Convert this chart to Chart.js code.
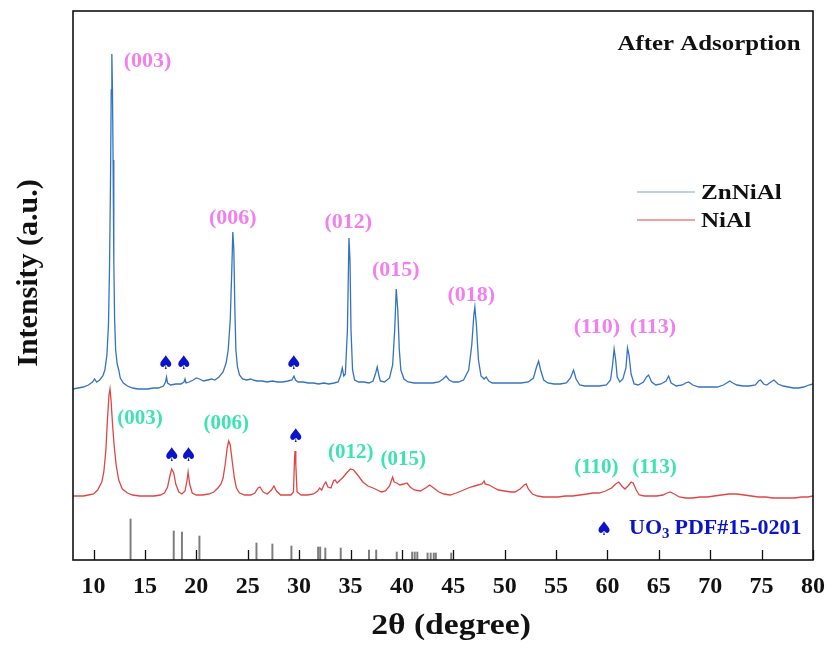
<!DOCTYPE html>
<html>
<head>
<meta charset="utf-8">
<script src="https://cdn.jsdelivr.net/npm/chart.js@4/dist/chart.umd.min.js"></script>
<style>
  html, body { margin: 0; padding: 0; background: #ffffff; }
  #wrap { width: 832px; height: 649px; }
</style>
</head>
<body>
<div id="wrap"><canvas id="xrd" width="832" height="649"></canvas></div>
<script>
// 2-theta values (degrees) and offset intensities (a.u.) for each pattern
const znNiAlTheta = [8.0,8.5,9.0,9.5,9.9,10.1,10.3,10.6,10.9,11.1,11.3,11.45,11.55,11.65,11.72,11.78,11.84,11.9,11.97,12.05,12.15,12.3,12.45,12.6,12.9,13.3,13.8,14.3,14.8,15.3,15.8,16.3,16.8,17.0,17.1,17.2,17.5,18.0,18.5,18.8,18.9,19.0,19.3,19.7,20.0,20.3,20.7,21.1,21.5,21.8,22.2,22.6,22.9,23.1,23.3,23.45,23.55,23.65,23.75,23.85,24.0,24.2,24.5,24.9,25.3,25.5,25.9,26.4,26.9,27.4,27.9,28.4,28.9,29.3,29.5,29.65,29.9,30.4,30.9,31.4,31.9,32.4,32.9,33.4,33.8,34.05,34.2,34.35,34.5,34.7,34.85,34.95,35.05,35.2,35.4,35.8,36.3,36.8,37.2,37.45,37.6,37.75,37.9,38.3,38.8,39.1,39.3,39.45,39.6,39.75,39.9,40.2,40.6,41.2,41.8,42.4,43.0,43.6,44.0,44.3,44.6,45.0,45.5,46.0,46.5,46.8,47.0,47.1,47.25,47.45,47.7,48.0,48.2,48.45,48.8,49.5,50.2,50.9,51.6,52.3,52.8,53.1,53.3,53.5,53.8,54.2,54.8,55.4,56.0,56.4,56.7,56.95,57.3,57.8,58.5,59.2,59.9,60.3,60.5,60.65,60.8,60.95,61.2,61.5,61.8,61.95,62.1,62.3,62.6,63.0,63.5,63.8,64.0,64.3,64.7,65.2,65.7,65.95,66.2,66.7,67.3,67.6,67.9,68.3,68.9,69.5,70.1,70.7,71.3,71.6,71.9,72.2,72.6,73.2,73.8,74.4,74.7,74.9,75.2,75.5,75.9,76.2,76.6,77.1,77.6,78.1,78.6,79.1,79.6,80.0];
const znNiAlIntensity = [171,172,173,175,178,181,178,180,184,190,205,235,290,380,470,506,470,400,300,240,210,196,190,182,177,174,172,171,171,171,172,172,174,178,183,177,175,176,176,178,181,177,178,180,182,181,179,180,181,180,183,188,197,210,240,290,328,310,250,210,193,185,181,180,181,180,179,179,178,179,178,178,179,180,184,180,178,178,177,177,176,177,176,177,178,185,192,184,186,230,322,300,230,190,180,178,178,177,179,187,193,185,179,178,182,195,230,271,250,210,190,181,178,177,177,177,177,178,181,184,180,178,178,180,190,215,245,253,235,200,184,181,183,179,177,177,177,177,177,178,182,193,199,190,180,177,176,176,177,182,190,181,175,174,174,174,175,180,195,211,200,183,178,181,192,212,205,186,176,175,178,183,185,178,175,176,179,184,177,174,175,177,178,175,173,173,173,173,175,177,179,177,175,174,174,175,179,180,176,175,178,180,176,174,173,172,172,173,175,176];

const niAlTheta = [8.0,8.5,9.0,9.5,10.0,10.4,10.8,11.0,11.2,11.35,11.5,11.6,11.7,11.85,12.0,12.2,12.45,12.8,13.3,13.8,14.5,15.2,15.9,16.5,16.9,17.2,17.45,17.6,17.8,18.0,18.3,18.6,18.9,19.1,19.2,19.35,19.6,20.0,20.6,21.2,21.7,22.1,22.4,22.6,22.8,23.0,23.15,23.3,23.5,23.7,23.9,24.2,24.7,25.3,25.7,26.0,26.2,26.5,26.9,27.3,27.55,27.8,28.2,28.7,29.2,29.45,29.55,29.6,29.68,29.8,30.2,30.8,31.4,31.8,32.0,32.2,32.45,32.6,32.8,33.1,33.35,33.5,33.7,34.0,34.3,34.7,35.0,35.3,35.7,36.2,36.7,37.2,37.6,38.0,38.4,38.8,39.0,39.1,39.25,39.5,39.8,40.2,40.5,40.8,41.2,41.8,42.3,42.7,43.1,43.6,44.1,44.7,45.3,46.0,46.7,47.4,47.8,48.0,48.1,48.5,49.0,49.4,50.0,50.6,51.0,51.5,51.9,52.1,52.3,52.7,53.2,53.8,54.5,55.2,55.9,56.6,57.3,58.0,58.6,59.2,59.8,60.4,60.8,61.1,61.4,61.7,62.0,62.3,62.5,62.8,63.1,63.6,64.2,64.8,65.4,65.8,66.1,66.5,67.0,67.6,68.3,69.0,69.7,70.4,71.1,71.8,72.6,73.3,74.0,74.7,75.4,76.1,76.8,77.5,78.2,78.9,79.5,80.0];
const niAlIntensity = [64,64,64,65,66,70,78,88,110,140,165,171,160,135,115,95,80,71,67,65,64,64,64,65,67,73,85,91,87,76,68,66,69,80,88,76,67,65,65,66,68,72,76,82,95,112,119,115,98,82,72,67,65,65,67,72,73,68,66,70,74,69,65,65,65,68,100,109,95,68,65,65,66,69,72,70,76,78,73,72,79,80,77,80,83,88,91,90,85,78,74,72,70,68,69,74,80,83,78,77,75,76,77,73,70,69,72,75,72,68,66,65,67,70,73,75,76,79,76,75,72,70,69,68,68,71,75,76,71,66,64,63,63,63,64,64,65,66,67,67,69,72,76,78,74,71,74,78,77,70,65,64,64,64,65,67,68,66,63,62,62,63,63,64,65,66,66,65,64,63,63,62,62,62,62,63,63,64];

// UO3 reference pattern (PDF#15-0201): line positions and relative heights
const uo3Theta = [13.6,17.8,18.6,20.3,25.85,27.4,29.25,31.85,32.05,32.55,34.05,36.8,37.5,39.5,41.0,41.25,41.5,42.5,42.8,43.1,43.3,44.8];
const uo3Height = [41,29,28,24,17,16,14,13,13,12,12,10,10,8,8,8,8,7,7,7,7,7];

// axis range and tick labels
const xMin = 8, xMax = 80, yMin = 0, yMax = 549;
const xTickValues = [10,15,20,25,30,35,40,45,50,55,60,65,70,75,80];

// reflection labels (Miller indices) and where they sit, in data units
const hklText = ['(003)','(006)','(012)','(015)','(018)','(110)','(113)'];
const hklZnNiAlTheta = [15.26,23.54,34.79,39.41,46.76,58.98,64.43];
const hklZnNiAlLevel = [499,342,338,290,265,233,233];
const hklNiAlText = ['(003)','(006)','(012)','(015)','(110)','(113)'];
const hklNiAlTheta = [14.53,22.9,35.03,40.14,58.93,64.58];
const hklNiAlLevel = [141,136,107,100,92,92];

// UO3 markers above the patterns
const spadeTheta = [17.02,18.77,29.48,17.6,19.25,29.67];
const spadeLevel = [196,196,196,104,104,123];

const seriesNames = ['ZnNiAl','NiAl'];

const toPoints = (xs, ys) => xs.map((x, i) => ({x: x, y: ys[i]}));

const SERIF = '"Liberation Serif", "Times New Roman", serif';
const BLUE_LINE = '#3473c4';
const RED_LINE = '#e04646';
const PINK = '#f27ff0';
const TEAL = '#3de3b2';
const MARK_BLUE = '#0a14c8';

// text drawn slightly widened, like the serif lettering of the figure
function wideText(ctx, text, x, y, stretch) {
  ctx.save();
  ctx.translate(x, y);
  ctx.scale(stretch, 1);
  ctx.fillText(text, 0, 0);
  ctx.restore();
}

const decorations = {
  id: 'decorations',
  afterDatasetsDraw(chart) {
    const {ctx, chartArea: a, scales: {x, y}} = chart;
    ctx.save();

    // inward tick marks on the 2-theta axis
    ctx.strokeStyle = '#111';
    ctx.lineWidth = 1.3;
    xTickValues.forEach(v => {
      const px = Math.round(x.getPixelForValue(v)) + 0.5;
      ctx.beginPath();
      ctx.moveTo(px, a.bottom);
      ctx.lineTo(px, a.bottom - 10);
      ctx.stroke();
    });

    // frame around the plot area
    ctx.lineWidth = 1.6;
    ctx.strokeStyle = '#111';
    ctx.strokeRect(a.left, a.top, a.right - a.left, a.bottom - a.top);

    // Miller indices
    ctx.textAlign = 'center';
    ctx.textBaseline = 'middle';
    ctx.font = 'bold 22px ' + SERIF;
    ctx.fillStyle = PINK;
    hklText.forEach((t, i) => {
      ctx.fillText(t, x.getPixelForValue(hklZnNiAlTheta[i]), y.getPixelForValue(hklZnNiAlLevel[i]));
    });
    ctx.font = 'bold 21px ' + SERIF;
    ctx.fillStyle = TEAL;
    hklNiAlText.forEach((t, i) => {
      ctx.fillText(t, x.getPixelForValue(hklNiAlTheta[i]), y.getPixelForValue(hklNiAlLevel[i]));
    });

    // spade markers for UO3 reflections
    ctx.font = '19px "DejaVu Sans"';
    ctx.fillStyle = MARK_BLUE;
    spadeTheta.forEach((t, i) => {
      ctx.fillText('\u2660', x.getPixelForValue(t), y.getPixelForValue(spadeLevel[i]));
    });

    // reference pattern caption
    ctx.fillText('\u2660', 604, 530);
    ctx.textAlign = 'left';
    ctx.font = 'bold 22px ' + SERIF;
    ctx.fillText('UO', 629, 528);
    let cx = 629 + ctx.measureText('UO').width;
    ctx.font = 'bold 15px ' + SERIF;
    ctx.fillText('3', cx, 534);
    cx += ctx.measureText('3').width + 5;
    ctx.font = 'bold 22px ' + SERIF;
    ctx.fillText('PDF#15-0201', cx, 528);

    // panel label
    ctx.fillStyle = '#111';
    ctx.textAlign = 'center';
    ctx.font = 'bold 22px ' + SERIF;
    wideText(ctx, 'After Adsorption', 709, 44, 1.13);

    // legend
    ctx.lineWidth = 1.2;
    [['#7aa8d0', 192], [RED_LINE, 220]].forEach(([c, ly], i) => {
      ctx.strokeStyle = c;
      ctx.beginPath();
      ctx.moveTo(637, ly);
      ctx.lineTo(695, ly);
      ctx.stroke();
      ctx.textAlign = 'left';
      ctx.fillStyle = '#111';
      ctx.font = 'bold 22px ' + SERIF;
      wideText(ctx, seriesNames[i], 701, ly + 1, 1.14);
    });

    // axis titles
    ctx.fillStyle = '#111';
    ctx.textAlign = 'center';
    ctx.font = 'bold 30px ' + SERIF;
    wideText(ctx, '2\u03b8 (degree)', 451, 626, 1.12);
    ctx.save();
    ctx.translate(29, 273);
    ctx.rotate(-Math.PI / 2);
    ctx.font = 'bold 30px ' + SERIF;
    ctx.fillText('Intensity (a.u.)', 0, 0);
    ctx.restore();

    ctx.restore();
  }
};

new Chart(document.getElementById('xrd'), {
  type: 'line',
  data: {
    datasets: [
      {
        label: seriesNames[0],
        data: toPoints(znNiAlTheta, znNiAlIntensity),
        borderColor: BLUE_LINE,
        borderWidth: 1.3,
        pointRadius: 0,
        tension: 0,
        fill: false
      },
      {
        label: seriesNames[1],
        data: toPoints(niAlTheta, niAlIntensity),
        borderColor: RED_LINE,
        borderWidth: 1.3,
        pointRadius: 0,
        tension: 0,
        fill: false
      },
      {
        type: 'bar',
        label: 'UO3 PDF#15-0201',
        data: toPoints(uo3Theta, uo3Height),
        backgroundColor: '#7d7d7d',
        borderWidth: 0,
        barThickness: 1.3,
        grouped: false
      }
    ]
  },
  options: {
    responsive: false,
    animation: false,
    devicePixelRatio: 1,
    layout: { padding: { left: 73, right: 19, top: 11, bottom: 0 } },
    plugins: { legend: { display: false }, tooltip: { enabled: false } },
    scales: {
      x: {
        type: 'linear',
        min: xMin,
        max: xMax,
        offset: false,
        grid: { display: false, drawTicks: false, tickLength: 0 },
        border: { display: false },
        ticks: {
          stepSize: 5,
          color: '#111',
          padding: 12,
          maxRotation: 0,
          autoSkip: false,
          font: { family: SERIF, size: 24, weight: 'bold' }
        },
        afterBuildTicks: s => { s.ticks = xTickValues.map(v => ({value: v})); },
        afterFit: s => { s.height = 89; s.paddingLeft = 0; s.paddingRight = 0; }
      },
      y: {
        type: 'linear',
        min: yMin,
        max: yMax,
        display: false
      }
    }
  },
  plugins: [decorations]
});
</script>
</body>
</html>
